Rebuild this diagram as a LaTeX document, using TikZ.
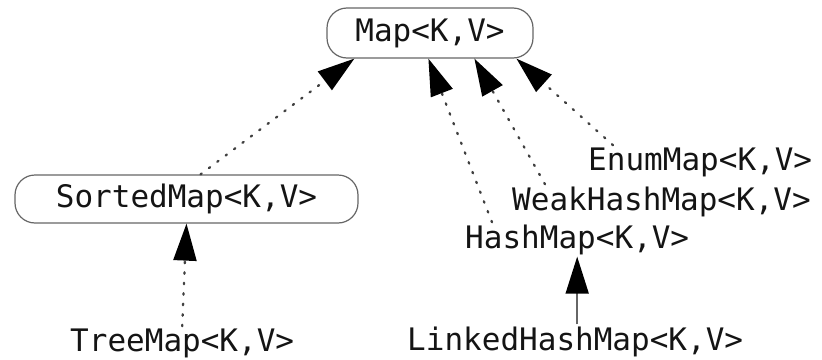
\documentclass[tikz,border=0pt]{standalone}
\usepackage{fontspec}
\setmonofont{DejaVu Sans Mono}
\usetikzlibrary{arrows.meta}

\begin{document}
\begin{tikzpicture}[x=1pt,y=-1pt,
  codefont/.style={font=\ttfamily\fontsize{31}{31}\selectfont, text=black!92},
  lbl/.style={codefont, inner sep=2pt, anchor=base west},
  ibox/.style={codefont, draw=black!60, line width=1.2pt, rounded corners=20pt, inner sep=0pt},
  impl/.style={draw=black!75, line width=2.3pt, dash pattern=on 1.5pt off 9pt, line cap=round,
    -{Triangle[length=37pt,width=23pt,color=black]}},
  ext/.style={draw=black!60, line width=1.8pt, -{Triangle[length=37pt,width=23pt,color=black]}}
]
\useasboundingbox (0,0) rectangle (822,359);

% interfaces
\node[ibox, minimum width=206pt, minimum height=50pt] (map) at (430,33) {Map<K,V>};
\node[ibox, minimum width=343pt, minimum height=48pt] (sorted) at (186.5,199) {SortedMap<K,V>};

% classes
\node[lbl] (tree)   at (68,351)  {TreeMap<K,V>};
\node[lbl] (hash)   at (463,248) {HashMap<K,V>};
\node[lbl] (weak)   at (510,210) {WeakHashMap<K,V>};
\node[lbl] (enum)   at (586,170) {EnumMap<K,V>};
\node[lbl] (linked) at (405,350) {LinkedHashMap<K,V>};

% implements
\draw[impl] ([xshift=14pt]sorted.north) -- ([xshift=28pt]map.south west);
\draw[impl] ([xshift=29pt]hash.north west) -- ([xshift=102pt]map.south west);
\draw[impl] ([xshift=35pt]weak.north west) -- ([xshift=148pt]map.south west);
\draw[impl] ([xshift=27pt]enum.north west) -- ([xshift=190pt]map.south west);
\draw[impl] (tree.north) -- (sorted.south);

% extends
\draw[ext] (linked.north -| hash.south) -- (hash.south);
\end{tikzpicture}
\end{document}
